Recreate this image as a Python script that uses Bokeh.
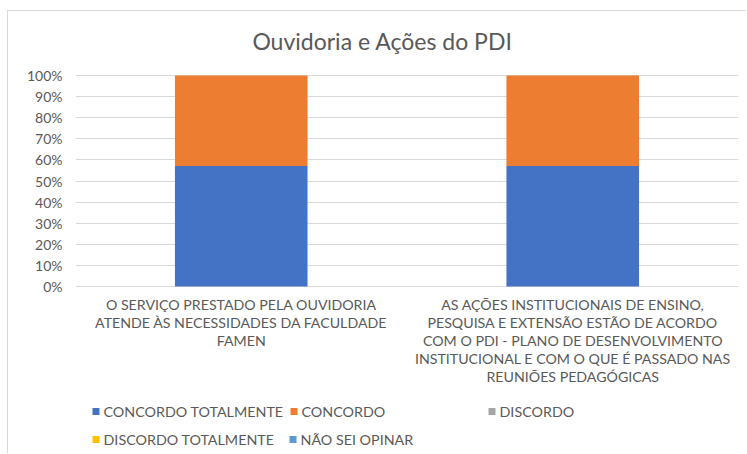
from bokeh.plotting import figure
from bokeh.models import (ColumnDataSource, FactorRange, Range1d, FixedTicker,
                          PrintfTickFormatter)
from bokeh.core.properties import value
from bokeh.embed import file_html
from bokeh.resources import INLINE

# ---------------- data ----------------
title_text = "Ouvidoria e Ações do PDI"
categories = [
    "O SERVIÇO PRESTADO PELA OUVIDORIA\nATENDE ÀS NECESSIDADES DA FACULDADE\nFAMEN",
    "AS AÇÕES INSTITUCIONAIS DE ENSINO,\nPESQUISA E EXTENSÃO ESTÃO DE ACORDO\nCOM O PDI - PLANO DE DESENVOLVIMENTO\nINSTITUCIONAL E COM O QUE É PASSADO NAS\nREUNIÕES PEDAGÓGICAS",
]
series = ["CONCORDO TOTALMENTE", "CONCORDO", "DISCORDO", "DISCORDO TOTALMENTE", "NÃO SEI OPINAR"]
concordo_totalmente = [57.14, 57.14]
concordo = [42.86, 42.86]
discordo = [0, 0]
discordo_totalmente = [0, 0]
nao_sei_opinar = [0, 0]
colors = ["#4472C4", "#ED7D31", "#A5A5A5", "#FFC000", "#5B9BD5"]
y_ticks = [0, 10, 20, 30, 40, 50, 60, 70, 80, 90, 100]

# ---------------- layout (page pixels) ----------------
FONT = "Lato"
TXT = "#595959"
fig_x0, fig_y0 = 8, 11                # canvas origin on the page
frame_x0, frame_x1 = 75, 738
frame_y0, frame_y1 = 18, 448          # top, bottom
y100, y0 = 75, 286                    # page y of 100% and 0%
ppu = (y0 - y100) / 100.0
y_end = 100 + (y100 - frame_y0) / ppu
y_start = -(frame_y1 - y0) / ppu
cat_w = (frame_x1 - frame_x0) / len(categories)


def xpos(page_x):
    # categorical coordinate (first factor + offset) for a page x position
    return (categories[0], (page_x - frame_x0) / cat_w - 0.5)


src = ColumnDataSource(dict(
    cat=categories,
    **{series[0]: concordo_totalmente,
       series[1]: concordo,
       series[2]: discordo,
       series[3]: discordo_totalmente,
       series[4]: nao_sei_opinar}))

p = figure(x_range=FactorRange(*categories, range_padding=0),
           y_range=Range1d(y_start, y_end),
           frame_width=frame_x1 - frame_x0, frame_height=frame_y1 - frame_y0,
           min_border_left=frame_x0 - fig_x0, min_border_right=8,
           min_border_top=frame_y0 - fig_y0, min_border_bottom=5,
           output_backend="svg", toolbar_location=None, tools="")
p.styles = {"margin-left": "7px", "margin-top": "10px",
            "border-left": "1px solid #D9D9D9", "border-top": "1px solid #D9D9D9"}
p.outline_line_color = None
p.background_fill_color = "white"
p.border_fill_color = "white"

p.extra_y_ranges = {"py": Range1d(frame_y1, frame_y0)}

p.vbar_stack(series, x="cat", width=0.4, source=src, color=colors, line_color=None)

# axes / grid
p.xaxis.visible = False
p.xgrid.grid_line_color = None
p.yaxis.ticker = FixedTicker(ticks=y_ticks)
p.ygrid.ticker = FixedTicker(ticks=y_ticks)
p.ygrid.grid_line_color = "#D9D9D9"
p.ygrid.grid_line_width = 1
p.yaxis.formatter = PrintfTickFormatter(format="%d%%")
p.yaxis.axis_line_color = None
p.yaxis.major_tick_line_color = None
p.yaxis.minor_tick_line_color = None
p.yaxis.major_tick_out = 0
p.yaxis.major_label_standoff = 13
p.yaxis.major_label_text_font = FONT
p.yaxis.major_label_text_font_size = "14px"
p.yaxis.major_label_text_color = TXT

# title
p.text(x=[xpos(382)], y=[40], text=[title_text], y_range_name="py",
       text_font=value(FONT), text_font_size="23px", text_color=TXT,
       text_align="center", text_baseline="middle")

# category labels (wrapped lines)
lx, ly, lt = [], [], []
for c in categories:
    for i, line in enumerate(c.split("\n")):
        lx.append(c)
        ly.append(304 + i * 18)
        lt.append(line)
p.text(x=lx, y=ly, text=lt, y_range_name="py",
       text_font=value(FONT), text_font_size="14.2px", text_color=TXT,
       text_align="center", text_baseline="middle")

# legend
leg_x = [92, 290, 488, 92, 289]
leg_y = [411, 411, 411, 439, 439]
p.rect(x=[xpos(x + 3.5) for x in leg_x], y=leg_y, width=7, height=7,
       width_units="screen", height_units="screen",
       color=colors, line_color=None, y_range_name="py")
p.text(x=[xpos(x + 11) for x in leg_x], y=leg_y, text=series, y_range_name="py",
       text_font=value(FONT), text_font_size="14.3px", text_color=TXT,
       text_align="left", text_baseline="middle")

open("out.html", "w").write(file_html(p, INLINE))
